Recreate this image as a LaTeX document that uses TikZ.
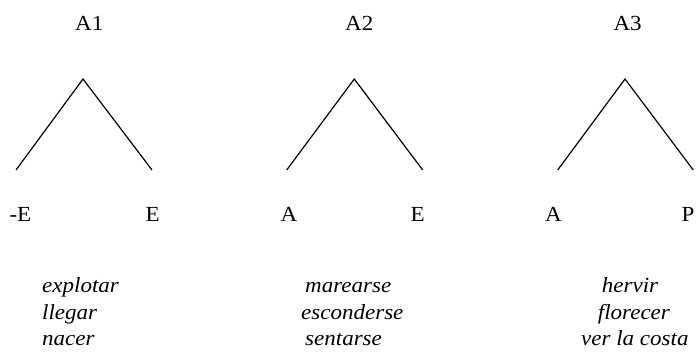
\documentclass[tikz,border=0pt]{standalone}
\usepackage{fontspec}
\setmainfont{Liberation Serif}
\begin{document}
\begin{tikzpicture}[x=1pt,y=-1pt,
  branch/.style={line width=1.2pt, black},
  lab/.style={inner sep=0pt, anchor=base west, font=\fontsize{21.5}{24}\selectfont},
  word/.style={inner sep=0pt, anchor=base west, font=\fontsize{21.5}{24}\selectfont\itshape}]
\useasboundingbox (0,0) rectangle (699,351);
\newcommand{\wx}[1]{\scalebox{1.07}[1]{#1}}
% tree 1
\coordinate (t1) at (83,79);
\coordinate (l1) at (16,170);
\coordinate (r1) at (152,170);
\draw[branch] (l1) -- (t1) -- (r1);
\node[lab] (a1) at (75,30) {\wx{A1}};
\node[lab] (ne1) at (9.3,221) {\wx{-E}};
\node[lab] (e1) at (145.5,221) {\wx{E}};
\node[word] (w11) at (42,292.7) {\wx{explotar}};
\node[word] (w12) at (42,319.3) {\wx{llegar}};
\node[word] (w13) at (42,345.5) {\wx{nacer}};
% tree 2
\coordinate (t2) at (354.3,79);
\coordinate (l2) at (286.7,170);
\coordinate (r2) at (422.7,170);
\draw[branch] (l2) -- (t2) -- (r2);
\node[lab] (a2) at (345,30) {\wx{A2}};
\node[lab] (aa2) at (280.5,221) {\wx{A}};
\node[lab] (e2) at (410.5,221) {\wx{E}};
\node[word] (w21) at (305,292.7) {\wx{marearse}};
\node[word] (w22) at (301,319.3) {\wx{esconderse}};
\node[word] (w23) at (305,345.5) {\wx{sentarse}};
% tree 3
\coordinate (t3) at (625,79);
\coordinate (l3) at (557.7,170);
\coordinate (r3) at (693.3,170);
\draw[branch] (l3) -- (t3) -- (r3);
\node[lab] (a3) at (613.3,30) {\wx{A3}};
\node[lab] (aa3) at (545,221) {\wx{A}};
\node[lab] (p3) at (681.5,221) {\wx{P}};
\node[word] (w31) at (601.7,292.7) {\wx{hervir}};
\node[word] (w32) at (597.7,319.3) {\wx{florecer}};
\node[word] (w33) at (581,345.5) {\wx{ver la costa}};
\end{tikzpicture}
\end{document}
